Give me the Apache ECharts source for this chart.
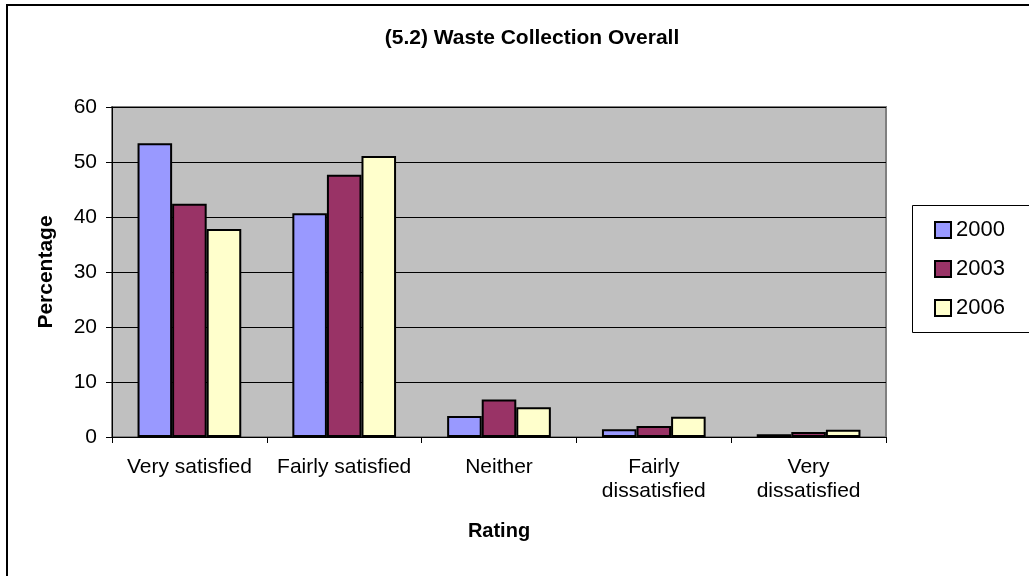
<!DOCTYPE html>
<html>
<head>
    <meta charset="utf-8">
    <title>Waste Collection Overall</title>
    <script src="https://cdn.jsdelivr.net/npm/echarts@6/dist/echarts.min.js"></script>
    <style>
        html, body { margin: 0; padding: 0; background: #fff; }
        #main { width: 1029px; height: 576px; }
    </style>
</head>
<body>
<div id="main"></div>
<script type="text/javascript">
    // chart data
    var categories = ['Very satisfied', 'Fairly satisfied', 'Neither', 'Fairly\ndissatisfied', 'Very\ndissatisfied'];
    var years = ['2000', '2003', '2006'];
    var values2000 = [53.4, 40.7, 3.8, 1.4, 0.5];
    var values2003 = [42.4, 47.7, 6.8, 2.0, 0.9];
    var values2006 = [37.8, 51.1, 5.4, 3.7, 1.3];
    var colors = ['#9999FF', '#993366', '#FFFFCC'];

    var font = '"Liberation Sans", Arial, sans-serif';
    var myChart = echarts.init(document.getElementById('main'), null, { renderer: 'canvas' });

    function barSeries(name, data, color) {
        return {
            name: name,
            type: 'bar',
            data: data,
            barGap: '0%',
            barCategoryGap: '33%',
            itemStyle: { color: color, borderColor: '#000', borderWidth: 2 }
        };
    }

    var option = {
        backgroundColor: '#fff',
        animation: false,
        textStyle: { fontFamily: font, color: '#000' },
        title: {
            text: '(5.2) Waste Collection Overall',
            left: 527,
            textAlign: 'center',
            top: 23,
            textStyle: { fontFamily: font, fontSize: 21, fontWeight: 'bold', color: '#000' }
        },
        legend: {
            orient: 'vertical',
            left: 929,
            top: 214,
            itemWidth: 16,
            itemHeight: 16,
            itemGap: 17,
            icon: 'rect',
            data: years,
            textStyle: { fontFamily: font, fontSize: 22, color: '#000' },
            itemStyle: { borderColor: '#000', borderWidth: 2 }
        },
        grid: {
            left: 112,
            right: 143,
            top: 107,
            bottom: 139,
            show: true,
            backgroundColor: '#C0C0C0',
            borderColor: '#808080',
            borderWidth: 2
        },
        xAxis: {
            type: 'category',
            data: categories,
            name: 'Rating',
            nameLocation: 'middle',
            nameGap: 84,
            nameTextStyle: { fontFamily: font, fontSize: 20, fontWeight: 'bold', color: '#000' },
            axisLine: { lineStyle: { color: '#000', width: 1 } },
            axisTick: { show: true, length: 6, alignWithLabel: false, lineStyle: { color: '#000' } },
            axisLabel: { fontFamily: font, fontSize: 21, color: '#000', margin: 18, lineHeight: 24, interval: 0 }
        },
        yAxis: {
            type: 'value',
            min: 0,
            max: 60,
            interval: 10,
            name: 'Percentage',
            nameLocation: 'middle',
            nameRotate: 90,
            nameGap: 55,
            nameTextStyle: { fontFamily: font, fontSize: 21, fontWeight: 'bold', color: '#000' },
            axisLine: { show: true, lineStyle: { color: '#000', width: 1 } },
            axisTick: { show: true, length: 6, lineStyle: { color: '#000' } },
            axisLabel: { fontFamily: font, fontSize: 21, color: '#000', margin: 15 },
            splitLine: { show: true, lineStyle: { color: '#000', width: 1 } }
        },
        graphic: [
            {
                type: 'rect',
                shape: { x: 7, y: 5, width: 1040, height: 600 },
                style: { fill: null, stroke: '#000', lineWidth: 2 },
                silent: true
            },
            {
                type: 'rect',
                shape: { x: 912.5, y: 205.5, width: 130, height: 127 },
                style: { fill: null, stroke: '#000', lineWidth: 1 },
                silent: true
            }
        ],
        series: [
            barSeries(years[0], values2000, colors[0]),
            barSeries(years[1], values2003, colors[1]),
            barSeries(years[2], values2006, colors[2])
        ]
    };
    myChart.setOption(option);
</script>
</body>
</html>
